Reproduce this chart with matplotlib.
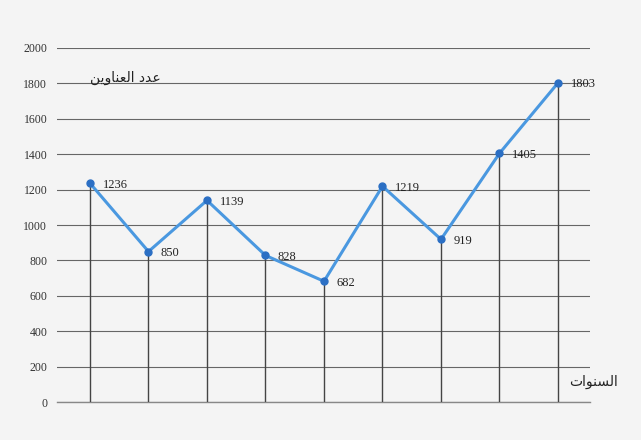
import matplotlib
matplotlib.use("Agg")
import matplotlib.pyplot as plt

years_idx = [0, 1, 2, 3, 4, 5, 6, 7, 8]
values = [1236, 850, 1139, 828, 682, 1219, 919, 1405, 1803]
labels = ["1236", "850", "1139", "828", "682", "1219", "919", "1405", "1803"]
yticks = [0, 200, 400, 600, 800, 1000, 1200, 1400, 1600, 1800, 2000]

# Arabic, shaped (presentation forms, visual order)
y_title = "".join(reversed("\uFECB\uFEAA\uFEA9 \uFE8D\uFEDF\uFECC\uFEE8\uFE8E\uFEED\uFEF3\uFEE6"))
x_title = "".join(reversed("\uFE8D\uFEDF\uFEB4\uFEE8\uFEEE\uFE8D\uFE95"))

bg = "#f4f4f4"
fig = plt.figure(figsize=(6.41, 4.40), dpi=100, facecolor=bg)
ax = fig.add_axes([57/641, 38/440, 533/641, 354/440])
ax.set_facecolor(bg)
ax.set_xlim(-0.564, 8.547)
ax.set_ylim(0, 2000)

for s in ax.spines.values():
    s.set_visible(False)
ax.set_yticks(yticks)
ax.set_yticklabels([str(v) for v in yticks], family="Liberation Serif", fontsize=8.5, color="#333333")
ax.tick_params(axis="y", length=0, pad=7)
ax.set_xticks([])
ax.yaxis.grid(True, color="#666666", linewidth=0.8)
ax.set_axisbelow(True)
ax.axhline(0, color="#888888", linewidth=1.0, clip_on=False, zorder=1)

ax.vlines(years_idx, 0, values, color="#444444", linewidth=1.0, zorder=2)
ax.plot(years_idx, values, color="#4a98e0", linewidth=2.2, marker="o",
        markersize=5, markerfacecolor="#2b6fc4", markeredgecolor="#2b6fc4", zorder=3)

for x, v, t in zip(years_idx, values, labels):
    ax.annotate(t, (x, v), xytext=(9, -1), textcoords="offset points",
                ha="left", va="center", family="Liberation Serif", fontsize=9, color="#222222")

ax.text(0.062, 0.915, y_title, transform=ax.transAxes, ha="left", va="center",
        family="DejaVu Sans", fontsize=10, color="#222222")
ax.text(1.007, 0.056, x_title, transform=ax.transAxes, ha="center", va="center",
        family="DejaVu Sans", fontsize=10, color="#222222")

fig.savefig("out.png", dpi=100, facecolor=bg)
